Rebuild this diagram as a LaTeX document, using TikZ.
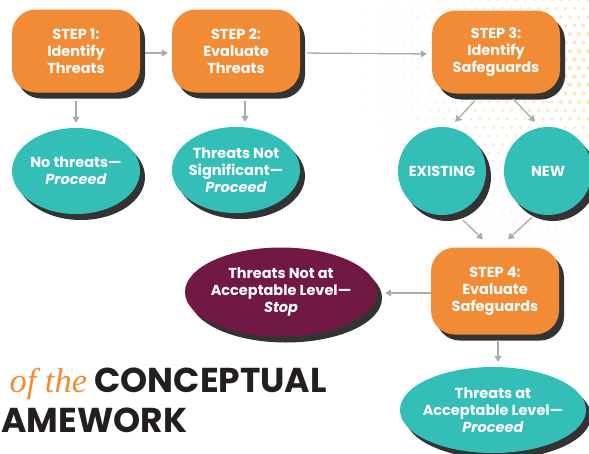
\documentclass[tikz,border=0pt]{standalone}
\usepackage{fontspec}
\setmainfont{Poppins}
\newfontfamily\scriptface{Liberation Serif}
\usetikzlibrary{shapes.geometric,shadows,arrows.meta}
\definecolor{steporange}{HTML}{F28B36}
\definecolor{okteal}{HTML}{33BEB7}
\definecolor{stopwine}{HTML}{711845}
\definecolor{shade}{HTML}{333333}
\definecolor{arrowgray}{HTML}{ABABAB}
\definecolor{titleink}{HTML}{231F20}
\definecolor{dotpeach}{HTML}{FDE6C0}
\tikzset{
  boxshadow/.style={drop shadow={shadow xshift=5pt, shadow yshift=-6pt, opacity=1, fill=shade}},
  boxtext/.style={text=white, align=center, font=\bfseries\fontsize{14.5}{17}\selectfont},
  stepbox/.style={rectangle, rounded corners=24pt, fill=steporange, minimum width=128pt,
    minimum height=83pt, inner sep=0pt, boxshadow, boxtext},
  outcome/.style={ellipse, fill=okteal, inner xsep=-14pt, inner ysep=-8pt, boxshadow, boxtext},
  option/.style={circle, fill=okteal, minimum size=88pt, inner sep=0pt, boxshadow, boxtext},
  flow/.style={draw=arrowgray, line width=1.3pt, -{Triangle[length=6pt,width=7pt]}},
  heading/.style={anchor=base west, text=titleink, font=\bfseries\fontsize{34.5}{40}\selectfont}
}
\begin{document}
\begin{tikzpicture}[x=1pt, y=-1pt]
  \useasboundingbox (0,0) rectangle (589,453);
  \begin{scope}
    \clip (0,0) rectangle (589,453);
    \foreach \j in {0,...,32} {
      \foreach \i in {0,...,34} {
        \pgfmathsetmacro{\dx}{300 + 9*\i + 4.5*mod(\j,2)}
        \pgfmathsetmacro{\dy}{8.5*\j}
        \pgfmathsetmacro{\dr}{2.4 - veclen(\dx-575,\dy-65)/105}
        \ifdim\dr pt>0.35pt
          \fill[dotpeach] (\dx,\dy) circle[radius=\dr pt];
        \fi
      }
    }
  \end{scope}
  \node[stepbox] (s1) at (76,51) {STEP 1:\\Identify\\Threats};
  \node[stepbox] (s2) at (236,51) {STEP 2:\\Evaluate\\Threats};
  \node[stepbox] (s3) at (496,52) {STEP 3:\\Identify\\Safeguards};
  \node[stepbox, minimum height=87pt] (s4) at (495,291) {STEP 4:\\Evaluate\\Safeguards};
  \node[outcome, minimum width=128pt, minimum height=86pt] (nothr) at (76,171)
    {No threats—\\\textit{Proceed}};
  \node[outcome, minimum width=128pt, minimum height=86pt] (notsig) at (236,170)
    {Threats Not\\Significant—\\\textit{Proceed}};
  \node[option] (exist) at (442,171) {EXISTING};
  \node[option] (new) at (548,171) {NEW};
  \node[outcome, fill=stopwine, minimum width=192pt, minimum height=89pt] (stop) at (281,292)
    {Threats Not at\\Acceptable Level—\\\textit{Stop}};
  \node[outcome, minimum width=186pt, minimum height=86pt] (ok) at (493,410)
    {Threats at\\Acceptable Level—\\\textit{Proceed}};
  \node[heading] (title) at (6,392)
    {{\mdseries\scriptface\itshape\color{steporange}of the} CONCEPTUAL};
  \node[heading] (title2) at (-2,432) {AMEWORK};
  \draw [flow, shorten <=5pt, shorten >=4pt] ([yshift=-2pt]s1.east) to ([yshift=-2pt]s2.west);
  \draw [flow, shorten <=7pt, shorten >=5pt] ([yshift=-2pt]s2.east) to ([yshift=-2pt]s3.west);
  \draw [flow, shorten <=8pt, shorten >=5pt] (s1.south) to (nothr.north);
  \draw [flow, shorten <=8pt, shorten >=5pt] ([xshift=9pt]s2.south) to ([xshift=9pt]notsig.north);
  \draw [flow] ([xshift=-21pt,yshift=-7pt]s3.south) to ([xshift=13pt,yshift=5pt]exist.north);
  \draw [flow] ([xshift=17pt,yshift=-5pt]s3.south) to ([xshift=-13pt,yshift=5pt]new.north);
  \draw [flow] ([xshift=21pt,yshift=-5pt]exist.south) to ([xshift=-12pt,yshift=8pt]s4.north);
  \draw [flow] ([xshift=-16pt,yshift=-2pt]new.south) to ([xshift=13pt,yshift=8pt]s4.north);
  \draw [flow, shorten >=8pt] ([yshift=-2pt]s4.west) to ([yshift=-1pt]stop.east);
  \draw [flow, shorten <=5pt, shorten >=5pt] ([xshift=3pt]s4.south) to ([xshift=5pt]ok.north);
\end{tikzpicture}
\end{document}
